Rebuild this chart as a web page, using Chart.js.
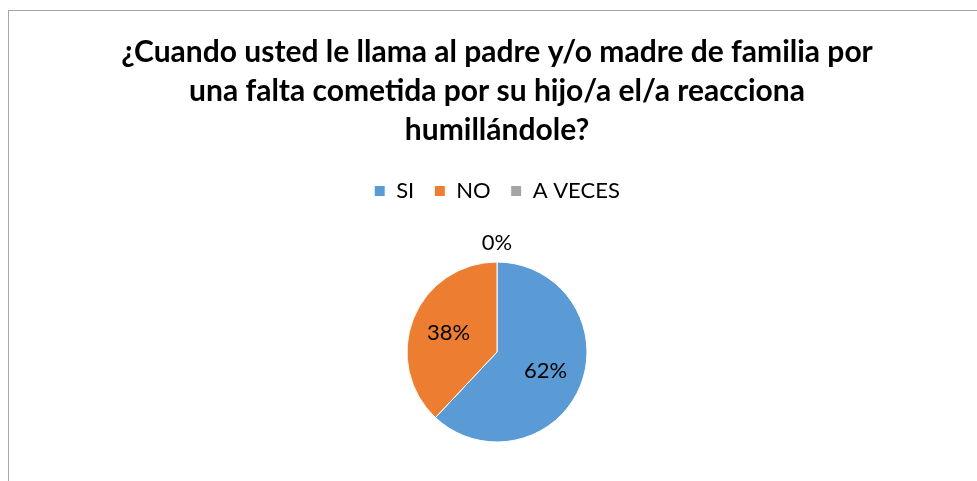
<!DOCTYPE html>
<html>
<head>
<meta charset="utf-8">
<script src="https://cdn.jsdelivr.net/npm/chart.js@4"></script>
<style>
  html, body { margin: 0; padding: 0; background: #fff; }
  #wrap { position: relative; width: 977px; height: 481px; overflow: hidden; }
  #frame { position: absolute; left: 8px; top: 10px; width: 1000px; height: 500px;
           border-left: 1px solid #a6a6a6; border-top: 1px solid #a6a6a6; }
  canvas { position: absolute; left: 0; top: 0; }
</style>
</head>
<body>
<div id="wrap">
  <div id="frame"></div>
  <canvas id="pieChart" width="977" height="481"></canvas>
</div>
<script>
const titleLines = [
  '¿Cuando usted le llama al padre y/o madre de familia por',
  'una falta cometida por su hijo/a el/a reacciona',
  'humillándole?'
]
const categories = ['SI', 'NO', 'A VECES']
const percentages = [62, 38, 0]
const sliceColors = ['#5B9BD5', '#ED7D31', '#A5A5A5']

const FONT = 'Lato, "Open Sans", sans-serif'

// draws the % labels inside the slices, or just outside if the slice is empty
const pieLabels = {
  id: 'pieLabels',
  afterDatasetsDraw (chart) {
    const ctx = chart.ctx
    const meta = chart.getDatasetMeta(0)
    ctx.save()
    ctx.font = '22px ' + FONT
    ctx.fillStyle = '#000'
    ctx.textAlign = 'center'
    ctx.textBaseline = 'middle'
    meta.data.forEach((arc, i) => {
      const { x, y, startAngle, endAngle, outerRadius } = arc.getProps(['x', 'y', 'startAngle', 'endAngle', 'outerRadius'], true)
      const mid = (startAngle + endAngle) / 2
      const value = percentages[i]
      const dist = value === 0 ? outerRadius + 19 : outerRadius * 0.58
      ctx.fillText(value + '%', x + Math.cos(mid) * dist, y + Math.sin(mid) * dist)
    })
    ctx.restore()
  }
}

new Chart(document.getElementById('pieChart').getContext('2d'), {
  type: 'pie',
  data: {
    labels: categories,
    datasets: [
      {
        data: percentages,
        backgroundColor: sliceColors,
        borderColor: '#ffffff',
        borderWidth: 1,
        radius: 90
      }
    ]
  },
  options: {
    responsive: false,
    animation: false,
    layout: { padding: { left: 17, right: 0, top: 0, bottom: 0 } },
    plugins: {
      title: {
        display: true,
        text: titleLines,
        color: '#000',
        font: { family: FONT, size: 30, weight: 'bold', lineHeight: 1.3 },
        padding: { top: 32.5, bottom: 10.5 }
      },
      // empty subtitle used as a spacer between the legend and the pie
      subtitle: {
        display: true,
        text: '',
        weight: 500,
        font: { size: 11, lineHeight: 1 },
        padding: 0
      },
      legend: {
        display: true,
        position: 'top',
        labels: {
          color: '#000',
          font: { family: FONT, size: 22 },
          boxWidth: 11,
          boxHeight: 11,
          padding: 20
        }
      },
      tooltip: { enabled: false }
    }
  },
  plugins: [pieLabels]
})
</script>
</body>
</html>
